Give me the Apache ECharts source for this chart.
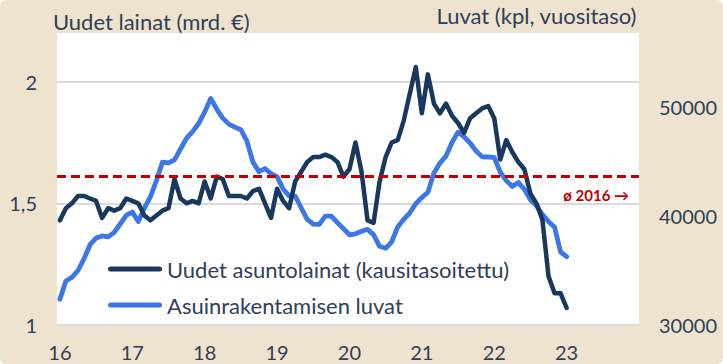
<!DOCTYPE html>
<html>
<head>
<meta charset="utf-8">
<title>Uudet asuntolainat ja asuinrakentamisen luvat</title>
<script src="https://cdn.jsdelivr.net/npm/echarts@6/dist/echarts.min.js"></script>
<style>
  html, body { margin: 0; padding: 0; background: #ffffff; }
  #chart { width: 723px; height: 364px; background: #EEE3CF; border-radius: 6px; overflow: hidden; }
</style>
</head>
<body>
<div id="chart"></div>
<script>
// Monthly series, Jan 2016 onwards
const startYear = 16;
// New housing loans, seasonally adjusted (bn EUR, left axis)
const loans = [
  1.43, 1.48, 1.50, 1.53, 1.53, 1.52, 1.51, 1.44, 1.48, 1.47, 1.48, 1.52,
  1.51, 1.50, 1.45, 1.43, 1.45, 1.47, 1.48, 1.60, 1.52, 1.50, 1.51, 1.50,
  1.59, 1.52, 1.61, 1.60, 1.53, 1.53, 1.53, 1.52, 1.55, 1.56, 1.50, 1.44,
  1.56, 1.51, 1.48, 1.59, 1.63, 1.67, 1.69, 1.69, 1.70, 1.69, 1.67, 1.61,
  1.64, 1.75, 1.63, 1.43, 1.42, 1.59, 1.69, 1.75, 1.76, 1.84, 1.95, 2.06,
  1.87, 2.03, 1.91, 1.87, 1.91, 1.86, 1.83, 1.79, 1.85, 1.87, 1.89, 1.90,
  1.85, 1.68, 1.76, 1.71, 1.67, 1.64, 1.54, 1.50, 1.43, 1.20, 1.13, 1.13,
  1.07
];
// Residential building permits, annualised (units, right axis)
const permits = [
  32360, 34040, 34380, 35000, 36080, 37370, 37980, 38170, 38090, 38500, 39270, 40060,
  40370, 39500, 40730, 41760, 43240, 44950, 44880, 45160, 46150, 47160, 47750, 48490,
  49540, 50800, 49820, 48990, 48440, 48160, 47920, 46880, 44950, 44080, 44360, 43880,
  43620, 42480, 41860, 41830, 40760, 39690, 39250, 39230, 40000, 40000, 39400, 38840,
  38280, 38370, 38600, 38780, 38300, 37220, 37040, 37630, 39000, 39700, 40280, 41140,
  41700, 42170, 43940, 44860, 45500, 46750, 47700, 47280, 46700, 45960, 45430, 45420,
  45390, 44040, 43250, 42710, 43070, 42450, 41500, 40940, 40140, 39480, 38990, 36700,
  36270
];
// 2016 reference level drawn as a dashed line
const avgLevel = 1.61;
const avgLabel = 'ø 2016 →';
// Axis ticks
const yearTicks = [16, 17, 18, 19, 20, 21, 22, 23];
const loanTicks = [1, 1.5, 2];
const permitTicks = [30000, 40000, 50000];

const seriesNames = ['Uudet asuntolainat (kausitasoitettu)', 'Asuinrakentamisen luvat'];
const textColor = '#2E4058';
const darkBlue = '#18385D';
const brightBlue = '#3B77E6';
const red = '#C00000';
const fontFamily = 'Lato, "Open Sans", sans-serif';

const toPoints = arr => arr.map((v, i) => [startYear + i / 12, v]);
const legendIcon = 'path://M2.5,0 H51.5 A2.5,2.5 0 0 1 51.5,5 H2.5 A2.5,2.5 0 0 1 2.5,0 Z';

const chart = echarts.init(document.getElementById('chart'), null, { renderer: 'svg' });
chart.setOption({
  animation: false,
  textStyle: { fontFamily: fontFamily },
  title: [
    { text: 'Uudet lainat (mrd. €)', left: 53, top: 10, padding: 0,
      textStyle: { fontSize: 22, fontWeight: 'normal', color: textColor, fontFamily: fontFamily } },
    { text: 'Luvat (kpl, vuositaso)', right: 86, top: 4, padding: 0,
      textStyle: { fontSize: 22, fontWeight: 'normal', color: textColor, fontFamily: fontFamily } }
  ],
  grid: {
    left: 57, right: 84, top: 33, bottom: 39,
    show: true, backgroundColor: '#ffffff', borderWidth: 0
  },
  legend: {
    orient: 'vertical',
    left: 103, top: 252,
    itemWidth: 54, itemHeight: 5, itemGap: 12,
    icon: legendIcon,
    textStyle: { fontSize: 22, color: textColor, lineHeight: 24, fontFamily: fontFamily },
    data: seriesNames
  },
  xAxis: {
    type: 'value',
    min: 15.96, max: 24,
    axisLine: { show: false },
    axisTick: { show: false, customValues: yearTicks },
    splitLine: { show: false },
    axisLabel: {
      customValues: yearTicks,
      fontSize: 20, color: textColor, margin: 17,
      formatter: v => String(v)
    }
  },
  yAxis: [
    {
      type: 'value', min: 1, max: 2.2,
      axisLine: { show: false },
      axisTick: { show: false, customValues: loanTicks },
      splitLine: { show: true, lineStyle: { color: '#DADADA', width: 2 } },
      axisLabel: {
        customValues: loanTicks,
        fontSize: 20, color: textColor, margin: 20,
        formatter: v => String(v).replace('.', ',')
      }
    },
    {
      type: 'value', min: 30000, max: 56800,
      position: 'right',
      axisLine: { show: false },
      axisTick: { show: false, customValues: permitTicks },
      splitLine: { show: false },
      axisLabel: {
        customValues: permitTicks,
        fontSize: 20, color: textColor, margin: 20,
        formatter: v => String(v)
      }
    }
  ],
  series: [
    {
      name: seriesNames[1],
      type: 'line', yAxisIndex: 1,
      data: toPoints(permits),
      symbol: 'none',
      color: brightBlue,
      lineStyle: { width: 4.8, color: brightBlue, cap: 'round', join: 'round' },
      z: 2
    },
    {
      name: seriesNames[0],
      type: 'line', yAxisIndex: 0,
      data: toPoints(loans),
      symbol: 'none',
      color: darkBlue,
      lineStyle: { width: 4.5, color: darkBlue, cap: 'round', join: 'round' },
      z: 3,
      markLine: {
        silent: true,
        symbol: 'none',
        lineStyle: { color: red, width: 3, type: [9, 5] },
        label: {
          show: true,
          position: 'insideEndBottom',
          distance: [10, 11],
          formatter: avgLabel,
          color: red, fontSize: 15, fontWeight: 'bold', fontFamily: fontFamily
        },
        data: [{ yAxis: avgLevel }]
      }
    }
  ]
});
</script>
</body>
</html>
